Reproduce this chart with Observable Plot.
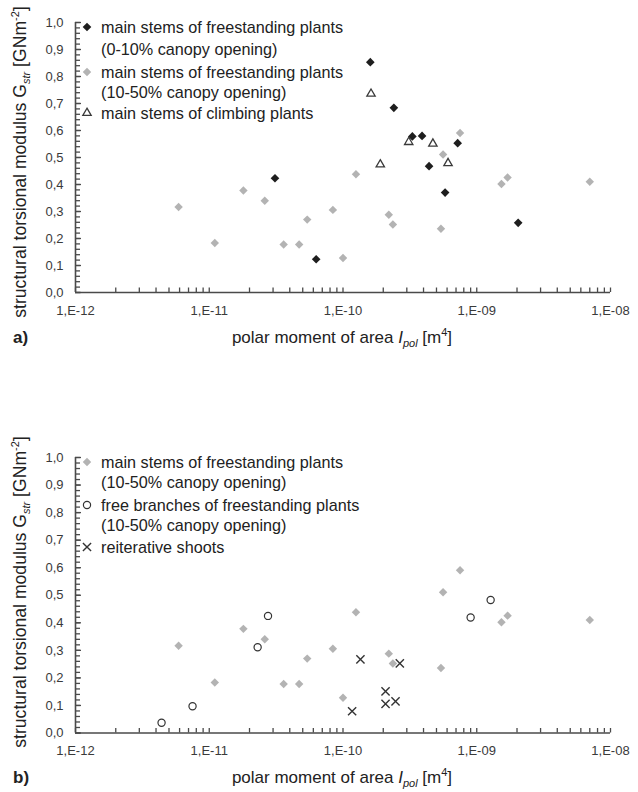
<!DOCTYPE html>
<html><head><meta charset="utf-8">
<script src="https://cdn.jsdelivr.net/npm/d3@7"></script>
<script src="https://cdn.jsdelivr.net/npm/@observablehq/plot@0.6"></script>
<style>
body{margin:0;background:#fff;font-family:"Liberation Sans",Arial,sans-serif;color:#222}
#wrap{position:relative;width:638px;height:792px;overflow:hidden;background:#fff}
.abs{position:absolute;white-space:nowrap;line-height:1}
.ytitle{font-size:17.6px;transform:translate(-50%,-50%) rotate(-90deg)}
.xtitle{font-size:17px;transform:translate(-50%,-50%)}
.tag{font-size:17px;font-weight:bold;transform:translate(0,-50%)}
sub{font-size:11px;vertical-align:-4px;line-height:0}
sup{font-size:11px;vertical-align:7px;line-height:0}
.leg{position:absolute;font-size:16.2px;color:#222}
.leg div{position:absolute;white-space:nowrap;transform:translate(0,-50%);line-height:1}
.leg svg{position:absolute;overflow:visible}
</style></head><body><div id="wrap"></div>
<script>
// ---------- data ----------
const xTicks = [1e-12, 1e-11, 1e-10, 1e-9, 1e-8];
const xTickLabels = ["1,E-12", "1,E-11", "1,E-10", "1,E-09", "1,E-08"];
const yTicks = [0, 0.1, 0.2, 0.3, 0.4, 0.5, 0.6, 0.7, 0.8, 0.9, 1.0];
const yTickLabels = ["0,0", "0,1", "0,2", "0,3", "0,4", "0,5", "0,6", "0,7", "0,8", "0,9", "1,0"];

// main stems of freestanding plants (10-50% canopy opening)
const grayIpol = [5.9e-12, 1.1e-11, 1.8e-11, 2.6e-11, 3.6e-11, 4.7e-11, 5.4e-11, 8.4e-11, 1.0e-10, 1.25e-10, 2.2e-10, 2.36e-10, 5.4e-10, 5.6e-10, 7.5e-10, 1.53e-9, 1.7e-9, 7.0e-9];
const grayG    = [0.317, 0.183, 0.378, 0.340, 0.178, 0.178, 0.270, 0.306, 0.128, 0.438, 0.288, 0.252, 0.236, 0.511, 0.591, 0.402, 0.426, 0.410];
// main stems of freestanding plants (0-10% canopy opening)
const blackIpol = [3.1e-11, 6.3e-11, 1.6e-10, 2.4e-10, 3.3e-10, 3.9e-10, 4.4e-10, 5.8e-10, 7.2e-10, 2.04e-9];
const blackG    = [0.423, 0.123, 0.853, 0.684, 0.578, 0.580, 0.468, 0.370, 0.553, 0.258];
// main stems of climbing plants
const climbIpol = [1.62e-10, 1.9e-10, 3.1e-10, 4.7e-10, 6.1e-10];
const climbG    = [0.736, 0.474, 0.557, 0.551, 0.479];
// free branches of freestanding plants (10-50% canopy opening)
const branchIpol = [4.4e-12, 7.5e-12, 2.3e-11, 2.75e-11, 9.0e-10, 1.27e-9];
const branchG    = [0.037, 0.097, 0.311, 0.425, 0.419, 0.483];
// reiterative shoots
const reitIpol = [1.17e-10, 1.35e-10, 2.08e-10, 2.08e-10, 2.47e-10, 2.66e-10];
const reitG    = [0.079, 0.267, 0.151, 0.106, 0.115, 0.253];

const legendA = ["main stems of freestanding plants", "(0-10% canopy opening)", "main stems of freestanding plants", "(10-50% canopy opening)", "main stems of climbing plants"];
const legendB = ["main stems of freestanding plants", "(10-50% canopy opening)", "free branches of freestanding plants", "(10-50% canopy opening)", "reiterative shoots"];

// ---------- helpers ----------
const pts = (xs, ys) => xs.map((x, i) => ({x, y: ys[i]}));
const gray = pts(grayIpol, grayG), black = pts(blackIpol, blackG), climb = pts(climbIpol, climbG);
const branch = pts(branchIpol, branchG), reit = pts(reitIpol, reitG);

const xMinor = [];
for (let e = -12; e < -8; e++) for (let k = 1; k <= 9; k++) xMinor.push(k * Math.pow(10, e));
xMinor.push(1e-8);
const yMinor = d3.range(0, 51).map(i => i / 50);

const AX = "#4a4a4a";
const styleGray  = {symbol: "diamond2", r: 3.8, fill: "#b3b3b3", stroke: "none"};
const styleBlack = {symbol: "diamond2", r: 3.9, fill: "#1e1e1e", stroke: "none"};
const styleTri   = {symbol: "triangle", r: 3.1, fill: "white", stroke: "#3a3a3a", strokeWidth: 1.3};
const styleCirc  = {symbol: "circle", r: 3.6, fill: "none", stroke: "#333", strokeWidth: 1.2};
const styleTimes = {symbol: "times", r: 3.8, fill: "none", stroke: "#333", strokeWidth: 1.4};

const W = 638, ML = 75, MR = 28, MT = 22;

function panel(dataMarks, height, marginBottom) {
  const plotW = W - ML - MR, plotH = height - MT - marginBottom;
  return Plot.plot({
    width: W, height, marginTop: MT, marginLeft: ML, marginRight: MR, marginBottom,
    x: {type: "log", domain: [1e-12, 1e-8]},
    y: {domain: [0, 1]},
    style: {fontFamily: "Liberation Sans, Arial, sans-serif", fontSize: "13px", color: "#3a3a3a", background: "white"},
    marks: [
      Plot.axisY({ticks: yTicks, tickFormat: d => yTickLabels[yTicks.indexOf(d)], tickSize: 0, tickPadding: 12, label: null, fontSize: 13}),
      Plot.axisX({ticks: xTicks, tickFormat: d => xTickLabels[xTicks.indexOf(d)], tickSize: 0, tickPadding: 13, label: null, fontSize: 13}),
      // minor ticks pointing into the plot
      Plot.ruleY(yMinor, {y: d => d, stroke: AX, strokeWidth: 1.3, insetRight: plotW - 5}),
      Plot.ruleY(yTicks, {y: d => d, stroke: AX, strokeWidth: 1.3, insetRight: plotW - 6}),
      Plot.ruleX(xMinor, {x: d => d, stroke: AX, strokeWidth: 1.3, insetTop: plotH - 4.5}),
      Plot.ruleY([0], {stroke: AX, strokeWidth: 1.6}),
      Plot.ruleX([1e-12], {stroke: AX, strokeWidth: 1.6}),
      ...dataMarks
    ]
  });
}

const wrap = document.getElementById("wrap");
function place(el, top) {
  el.style.position = "absolute"; el.style.left = "0px"; el.style.top = top + "px";
  wrap.appendChild(el);
}

const plotA = panel([
  Plot.dot(gray, {x: "x", y: "y", ...styleGray}),
  Plot.dot(black, {x: "x", y: "y", ...styleBlack}),
  Plot.dot(climb, {x: "x", y: "y", ...styleTri})
], 330, 38);
place(plotA, 0);

const plotB = panel([
  Plot.dot(gray, {x: "x", y: "y", ...styleGray}),
  Plot.dot(branch, {x: "x", y: "y", ...styleCirc}),
  Plot.dot(reit, {x: "x", y: "y", ...styleTimes})
], 340, 42.5);
place(plotB, 435);

function html(cls, x, y, inner) {
  const d = document.createElement("div");
  d.className = "abs " + cls; d.style.left = x + "px"; d.style.top = y + "px"; d.innerHTML = inner;
  wrap.appendChild(d);
}
const yTitle = 'structural torsional modulus G<sub><i>str</i></sub> [GNm<sup>-2</sup>]';
const xTitle = 'polar moment of area <i>I</i><sub><i>pol</i></sub> [m<sup>4</sup>]';
html("ytitle", 21, 162, yTitle);
html("xtitle", 342, 337, xTitle);
html("tag", 13, 337, "a)");
html("ytitle", 21, 592, yTitle);
html("xtitle", 342, 777, xTitle);
html("tag", 13, 777, "b)");

// legends
function legend(top, rows, labels, syms) {
  const g = document.createElement("div");
  g.className = "leg"; g.style.left = "0px"; g.style.top = "0px";
  labels.forEach((t, i) => {
    const d = document.createElement("div");
    d.style.left = "101px"; d.style.top = (top + rows[i]) + "px"; d.textContent = t;
    g.appendChild(d);
  });
  syms.forEach(([row, st]) => {
    const s = d3.create("svg").attr("width", 1).attr("height", 1)
      .style("left", "87px").style("top", (top + rows[row]) + "px");
    const typ = {diamond2: d3.symbolDiamond2, triangle: d3.symbolTriangle, circle: d3.symbolCircle, times: d3.symbolTimes}[st.symbol];
    s.append("path").attr("d", d3.symbol(typ, Math.PI * st.r * st.r)())
      .attr("fill", st.fill).attr("stroke", st.stroke).attr("stroke-width", st.strokeWidth || 0);
    g.appendChild(s.node());
  });
  wrap.appendChild(g);
}
legend(27, [0, 22, 45, 65, 86], legendA, [[0, styleBlack], [2, styleGray], [4, styleTri]]);
legend(462, [0, 20, 43, 63, 85], legendB, [[0, styleGray], [2, styleCirc], [4, styleTimes]]);
</script></body></html>
